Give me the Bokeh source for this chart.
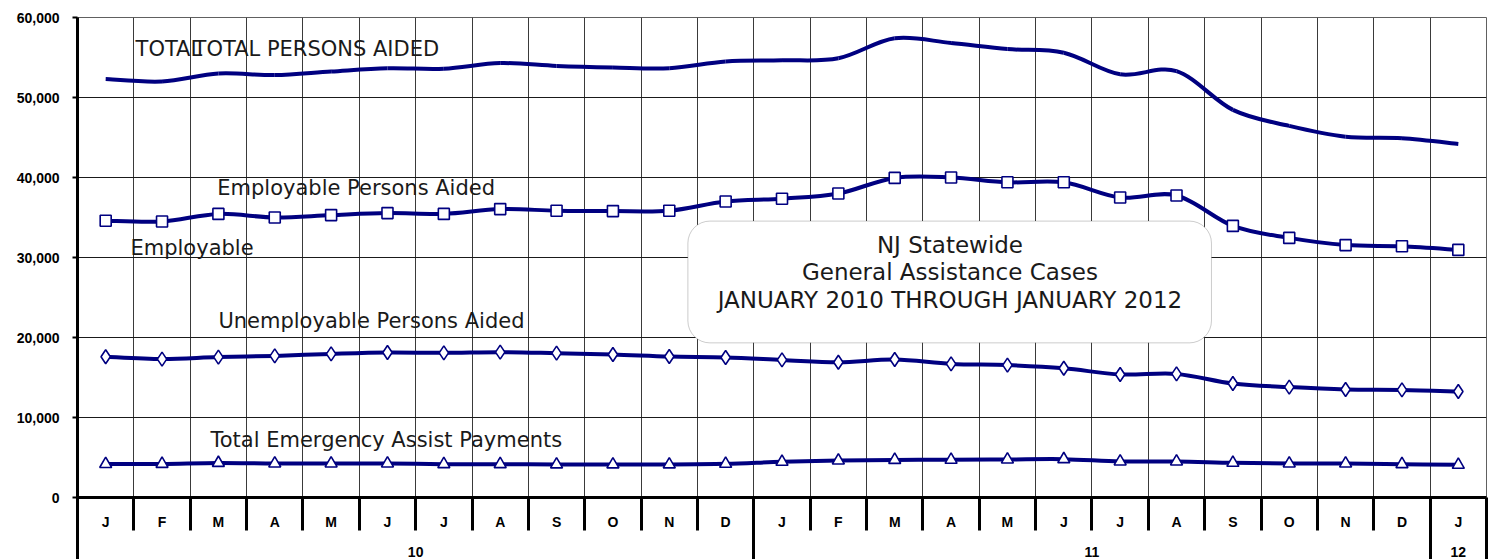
from bokeh.plotting import figure
from bokeh.models import (Range1d, FixedTicker, LinearAxis, NumeralTickFormatter,
                          Label, BoxAnnotation, ColumnDataSource)
from bokeh.embed import file_html
from bokeh.resources import INLINE

# ---------------- data ----------------
months = ["J", "F", "M", "A", "M", "J", "J", "A", "S", "O", "N", "D",
          "J", "F", "M", "A", "M", "J", "J", "A", "S", "O", "N", "D", "J"]
years = ["10", "11", "12"]
year_span = [12, 12, 1]  # months in each year group

total_persons = [52300, 52000, 53000, 52800, 53250, 53650, 53600, 54300, 53950, 53750,
                 53650, 54500, 54650, 54900, 57400, 56800, 56050, 55600, 52900, 53300,
                 48450, 46450, 45100, 44900, 44200]
employable = [34600, 34500, 35450, 35000, 35300, 35550, 35450, 36050, 35850, 35800,
              35850, 37000, 37350, 38000, 39950, 40000, 39400, 39400, 37500, 37750,
              33950, 32450, 31550, 31400, 30950]
unemployable = [17600, 17300, 17550, 17700, 17950, 18130, 18080, 18170, 18040, 17880,
                17620, 17500, 17200, 16900, 17250, 16700, 16550, 16150, 15380, 15450,
                14250, 13800, 13500, 13450, 13250]
emergency = [4180, 4200, 4320, 4250, 4250, 4250, 4170, 4170, 4130, 4130,
             4130, 4210, 4460, 4620, 4700, 4710, 4750, 4790, 4500, 4500,
             4330, 4250, 4250, 4170, 4080]

y_ticks = [0, 10000, 20000, 30000, 40000, 50000, 60000]

# ---------------- helpers ----------------
NAVY = "#000080"
n = len(months)
xc = [i + 0.5 for i in range(n)]


def bezier_source(xs, ys):
    """Excel-like smoothed line: cubic Bezier segments through the data points."""
    d = dict(x0=[], y0=[], x1=[], y1=[], cx0=[], cy0=[], cx1=[], cy1=[])
    m = len(xs)
    for i in range(m - 1):
        a = max(i - 1, 0)
        b = min(i + 2, m - 1)
        d["x0"].append(xs[i]); d["y0"].append(ys[i])
        d["x1"].append(xs[i + 1]); d["y1"].append(ys[i + 1])
        d["cx0"].append(xs[i] + (xs[i + 1] - xs[a]) / 6.0)
        d["cy0"].append(ys[i] + (ys[i + 1] - ys[a]) / 6.0)
        d["cx1"].append(xs[i + 1] - (xs[b] - xs[i]) / 6.0)
        d["cy1"].append(ys[i + 1] - (ys[b] - ys[i]) / 6.0)
    return ColumnDataSource(d)


p = figure(width=1499, height=559, output_backend="svg", toolbar_location=None,
           x_range=Range1d(0, n), y_range=Range1d(0, 60000),
           min_border_left=77, min_border_right=13, min_border_top=17, min_border_bottom=61,
           background_fill_color="white", border_fill_color="white")
p.outline_line_color = "#606060"
p.outline_line_width = 1

# grid
p.xgrid.ticker = FixedTicker(ticks=list(range(n + 1)))
p.xgrid.grid_line_color = "#3a3a3a"
p.xgrid.grid_line_width = 1
p.ygrid.ticker = FixedTicker(ticks=y_ticks)
p.ygrid.grid_line_color = "#1a1a1a"
p.ygrid.grid_line_width = 1

LBL_FONT = "Liberation Sans"

# y axis
ya = p.yaxis[0]
ya.ticker = FixedTicker(ticks=y_ticks)
ya.formatter = NumeralTickFormatter(format="0,0")
ya.axis_line_color = "black"
ya.axis_line_width = 3
ya.major_tick_out = 5
ya.major_tick_in = 0
ya.major_tick_line_width = 2
ya.minor_tick_line_color = None
ya.major_label_standoff = 13
ya.major_label_text_font = LBL_FONT
ya.major_label_text_font_style = "bold"
ya.major_label_text_font_size = "14px"
ya.major_label_text_color = "black"

# month axis
xa = p.xaxis[0]
boundaries = list(range(n + 1))
xa.ticker = FixedTicker(ticks=xc, minor_ticks=boundaries)
xa.major_label_overrides = {c: m for c, m in zip(xc, months)}
xa.axis_line_color = "black"
xa.axis_line_width = 3
xa.major_tick_line_color = None
xa.major_tick_out = 0
xa.major_tick_in = 0
xa.minor_tick_in = 0
xa.minor_tick_out = 33
xa.minor_tick_line_width = 3
xa.minor_tick_line_color = "black"
xa.major_label_standoff = -17
xa.major_label_text_font = LBL_FONT
xa.major_label_text_font_style = "bold"
xa.major_label_text_font_size = "14px"
xa.major_label_text_color = "black"

# year axis
starts = [sum(year_span[:k]) for k in range(len(year_span))]
ycent = [s + w / 2.0 for s, w in zip(starts, year_span)]
ybounds = starts + [n]
yr = LinearAxis(ticker=FixedTicker(ticks=ycent, minor_ticks=ybounds),
                major_label_overrides={c: y for c, y in zip(ycent, years)})
yr.axis_line_color = None
yr.major_tick_line_color = None
yr.major_tick_out = 0
yr.major_tick_in = 0
yr.minor_tick_in = 4
yr.minor_tick_out = 30
yr.minor_tick_line_width = 3
yr.minor_tick_line_color = "black"
yr.major_label_standoff = -16
yr.major_label_text_font = LBL_FONT
yr.major_label_text_font_style = "bold"
yr.major_label_text_font_size = "14px"
yr.major_label_text_color = "black"
p.add_layout(yr, "below")

# series
series = [(total_persons, None), (employable, "square"),
          (unemployable, "diamond"), (emergency, "triangle")]
for vals, marker in series:
    p.bezier(x0="x0", y0="y0", x1="x1", y1="y1", cx0="cx0", cy0="cy0",
             cx1="cx1", cy1="cy1", source=bezier_source(xc, vals),
             line_color=NAVY, line_width=4)
for vals, marker in series:
    if marker is None:
        continue
    size = {"square": 11, "diamond": 14, "triangle": 12}[marker]
    p.scatter(xc, vals, marker=marker, size=size, fill_color="white",
              line_color=NAVY, line_width=1.6)

# text labels
TXT = "#1a1a1a"
FONT = "DejaVu Sans"
labels = [
    ("TOTAL", 1.03, 56100),
    ("TOTAL PERSONS AIDED", 2.06, 56100),
    ("Employable Persons Aided", 2.48, 38700),
    ("Employable", 0.94, 31200),
    ("Unemployable Persons Aided", 2.50, 22100),
    ("Total Emergency Assist Payments", 2.36, 7250),
]
for t, x, y in labels:
    p.add_layout(Label(x=x, y=y, text=t, text_font=FONT, text_font_size="21px",
                       text_color=TXT, text_baseline="middle", text_align="left"))

# title box
p.add_layout(BoxAnnotation(left=10.83, right=20.12, top=34550, bottom=19330,
                           fill_color="white", fill_alpha=1.0,
                           line_color="#555555", line_width=1, border_radius=22))
title_lines = ["NJ Statewide", "General Assistance Cases",
               "JANUARY 2010 THROUGH JANUARY 2012"]
for t, y in zip(title_lines, [31560, 28190, 24700]):
    p.add_layout(Label(x=15.48, y=y, text=t, text_font=FONT, text_font_size="23px",
                       text_color=TXT, text_baseline="middle", text_align="center"))

open("out.html", "w").write(file_html(p, INLINE))
